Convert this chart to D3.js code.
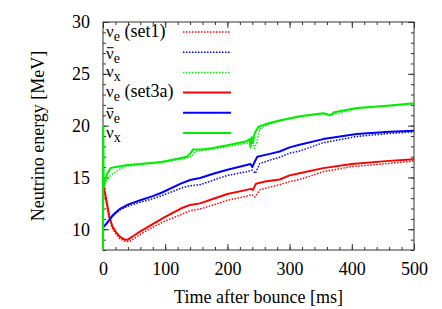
<!DOCTYPE html>
<html>
<head>
<meta charset="utf-8">
<script src="https://cdn.jsdelivr.net/npm/d3@7"></script>
<style>
  body { margin: 0; background: #fff; }
  svg text { font-family: "Liberation Serif", "Times New Roman", Times, serif; }
</style>
</head>
<body>
<div id="chart"></div>
<script>
// Time after bounce [ms] and mean energy [MeV]
const tNueSet1 = [1, 3, 6, 10, 15, 20, 27, 35, 42, 50, 60, 80, 100, 125, 140, 156, 180, 200, 231, 239, 244, 252, 270, 284, 300, 316, 354, 400, 460, 500];
const eNueSet1 = [13.8, 13.4, 12.3, 11.0, 10.1, 9.6, 9.1, 8.85, 8.8, 9.1, 9.5, 10.2, 10.8, 11.4, 11.8, 11.95, 12.4, 12.8, 13.2, 13.35, 13.1, 13.8, 14.1, 14.3, 14.6, 14.8, 15.55, 16.05, 16.35, 16.6];

const tAnueSet1 = [0, 2, 5, 10, 15, 20, 28, 41, 60, 80, 95, 125, 140, 156, 180, 200, 231, 240, 245, 252, 270, 284, 300, 316, 354, 408, 461, 500];
const eAnueSet1 = [10.2, 10.3, 10.5, 10.8, 11.2, 11.5, 11.9, 12.25, 12.6, 12.95, 13.25, 13.95, 14.2, 14.3, 14.8, 15.2, 15.55, 15.7, 15.4, 16.35, 16.7, 16.95, 17.35, 17.55, 18.35, 18.95, 19.25, 19.4];

const tNuxSet1 = [0, 0.5, 1, 3, 7, 12, 20, 30, 40, 68, 94, 120, 135, 142, 148, 160, 177, 200, 231, 240, 244, 248, 252, 265, 284, 316, 354, 365, 408, 461, 500];
const eNuxSet1 = [8, 19.5, 14.0, 14.3, 14.8, 15.2, 15.55, 15.9, 16.1, 16.3, 16.45, 16.7, 16.9, 17.0, 17.5, 17.6, 17.75, 18.0, 18.3, 18.4, 17.8, 18.6, 19.7, 20.1, 20.45, 20.85, 21.15, 21.0, 21.65, 21.9, 22.1];

const tNueSet3a = [0, 1, 3, 6, 10, 15, 20, 27, 35, 40, 50, 60, 80, 100, 125, 140, 156, 180, 200, 231, 238, 241, 246, 260, 284, 300, 316, 354, 400, 460, 500];
const eNueSet3a = [14.0, 14.0, 13.6, 12.6, 11.3, 10.3, 9.8, 9.3, 9.0, 9.0, 9.4, 9.8, 10.5, 11.2, 12.0, 12.35, 12.5, 13.0, 13.4, 13.8, 13.9, 13.8, 14.4, 14.6, 14.8, 15.2, 15.4, 15.9, 16.3, 16.6, 16.75];

const tAnueSet3a = [0, 2, 5, 10, 15, 20, 28, 41, 60, 80, 95, 125, 140, 156, 180, 200, 231, 237, 240, 243, 248, 270, 284, 300, 316, 354, 408, 461, 500];
const eAnueSet3a = [10.2, 10.3, 10.5, 10.9, 11.3, 11.6, 12.0, 12.4, 12.8, 13.2, 13.55, 14.4, 14.75, 14.95, 15.4, 15.75, 16.2, 16.3, 16.0, 16.4, 17.0, 17.3, 17.5, 17.9, 18.15, 18.7, 19.2, 19.4, 19.5];

const tNuxSet3a = [0, 0.5, 1, 2, 4, 7, 12, 20, 40, 68, 94, 120, 135, 140, 145, 160, 177, 200, 231, 236, 237, 239, 241, 244, 250, 265, 284, 316, 354, 360, 365, 372, 408, 461, 500];
const eNuxSet3a = [8, 20.0, 14.2, 14.3, 14.8, 15.4, 15.9, 16.0, 16.2, 16.35, 16.5, 16.8, 17.0, 17.3, 17.7, 17.7, 17.85, 18.1, 18.5, 18.7, 17.9, 18.9, 18.3, 19.3, 19.9, 20.2, 20.5, 20.9, 21.2, 21.1, 21.0, 21.3, 21.7, 21.95, 22.15];

const xTicks = [0, 100, 200, 300, 400, 500];
const yTicks = [10, 15, 20, 25, 30];

const series = [
  { name: "set1",  flavor: "nue",  t: tNueSet1,   e: eNueSet1,   color: "#ff0000", dotted: true },
  { name: "",      flavor: "anue", t: tAnueSet1,  e: eAnueSet1,  color: "#0000ff", dotted: true },
  { name: "",      flavor: "nux",  t: tNuxSet1,   e: eNuxSet1,   color: "#00ee00", dotted: true },
  { name: "set3a", flavor: "nue",  t: tNueSet3a,  e: eNueSet3a,  color: "#ff0000", dotted: false },
  { name: "",      flavor: "anue", t: tAnueSet3a, e: eAnueSet3a, color: "#0000ff", dotted: false },
  { name: "",      flavor: "nux",  t: tNuxSet3a,  e: eNuxSet3a,  color: "#00ee00", dotted: false }
];

const W = 442, H = 309;
const margin = { top: 22, right: 28, bottom: 59, left: 103 };
const width = W - margin.left - margin.right,
      height = H - margin.top - margin.bottom;
const serif = "'Liberation Serif', 'Times New Roman', Times, serif";

const svg = d3.select("#chart").append("svg")
    .attr("width", W)
    .attr("height", H)
    .attr("font-family", serif);

const g = svg.append("g")
    .attr("transform", `translate(${margin.left},${margin.top})`);

const x = d3.scaleLinear().domain([0, 500]).range([0, width]);
const y = d3.scaleLinear().domain([8, 30]).range([height, 0]);

// ticks on all four sides, gnuplot style
const frameColor = "#333";
const xMinor = d3.range(0, 501, 20);
const yMinor = d3.range(8, 31, 1);

const axisStyle = (sel) => {
    sel.attr("font-family", serif).attr("font-size", 18);
    sel.select(".domain").remove();
    sel.selectAll(".tick line").attr("stroke", frameColor);
    sel.selectAll(".tick text").attr("fill", "#000");
};

g.append("g").attr("transform", `translate(0,${height})`)
    .call(d3.axisBottom(x).tickValues(xMinor).tickSize(-3).tickFormat(""))
    .call(axisStyle);
g.append("g")
    .call(d3.axisTop(x).tickValues(xMinor).tickSize(-3).tickFormat(""))
    .call(axisStyle);
g.append("g")
    .call(d3.axisLeft(y).tickValues(yMinor).tickSize(-3).tickFormat(""))
    .call(axisStyle);
g.append("g").attr("transform", `translate(${width},0)`)
    .call(d3.axisRight(y).tickValues(yMinor).tickSize(-3).tickFormat(""))
    .call(axisStyle);

g.append("g").attr("transform", `translate(0,${height})`)
    .call(d3.axisBottom(x).tickValues(xTicks).tickSize(-6).tickPadding(12).tickFormat(d3.format("d")))
    .call(axisStyle);
g.append("g")
    .call(d3.axisTop(x).tickValues(xTicks).tickSize(-6).tickFormat(""))
    .call(axisStyle);
g.append("g")
    .call(d3.axisLeft(y).tickValues(yTicks).tickSize(-6).tickPadding(13).tickFormat(d3.format("d")))
    .call(axisStyle);
g.append("g").attr("transform", `translate(${width},0)`)
    .call(d3.axisRight(y).tickValues(yTicks).tickSize(-6).tickFormat(""))
    .call(axisStyle);

g.append("rect")
    .attr("width", width).attr("height", height)
    .attr("fill", "none").attr("stroke", frameColor).attr("stroke-width", 1);

// clip the curves to the frame (lines drawn over the frame like gnuplot)
svg.append("defs").append("clipPath").attr("id", "clip")
  .append("rect").attr("x", -1.5).attr("width", width + 1.5).attr("height", height);

const line = d3.line()
    .x(d => x(d[0]))
    .y(d => y(d[1]));

const gLines = g.append("g").attr("clip-path", "url(#clip)");
series.forEach(s => {
    gLines.append("path")
        .datum(d3.zip(s.t, s.e))
        .attr("fill", "none")
        .attr("stroke", s.color)
        .attr("stroke-width", s.dotted ? 1.5 : 2)
        .attr("stroke-dasharray", s.dotted ? "1.5,1.5" : null)
        .attr("stroke-linejoin", "round")
        .attr("d", line);
});

// axis titles
svg.append("text")
    .attr("x", margin.left + width / 2).attr("y", 303)
    .attr("text-anchor", "middle").attr("font-size", 18)
    .text("Time after bounce [ms]");

svg.append("text")
    .attr("transform", `translate(44,${margin.top + height / 2}) rotate(-90)`)
    .attr("text-anchor", "middle").attr("font-size", 18)
    .text("Neutrino energy [MeV]");

// legend
const legend = g.append("g").attr("transform", "translate(3,0)");
series.forEach((s, i) => {
    const cy = 10 + i * 20.2;
    const base = cy + (s.flavor === "anue" ? 6.5 : 4.5);
    const txt = legend.append("text").attr("x", 0).attr("y", base).attr("font-size", 17);
    txt.append("tspan").text("\u03BD");
    txt.append("tspan").attr("dy", 4).attr("font-size", 14)
        .text(s.flavor === "nux" ? "x" : "e");
    if (s.name) {
        txt.append("tspan").attr("dy", -4).attr("font-size", 18).text(" (" + s.name + ")");
    }
    if (s.flavor === "anue") {
        // bar over the nu
        legend.append("line")
            .attr("x1", 1).attr("x2", 7.5)
            .attr("y1", base - 11).attr("y2", base - 11)
            .attr("stroke", "#000").attr("stroke-width", 1);
    }
    legend.append("line")
        .attr("x1", 77).attr("x2", 125)
        .attr("y1", cy).attr("y2", cy)
        .attr("stroke", s.color)
        .attr("stroke-width", s.dotted ? 1.5 : 2)
        .attr("stroke-dasharray", s.dotted ? "1.5,1.5" : null);
});
</script>
</body>
</html>
